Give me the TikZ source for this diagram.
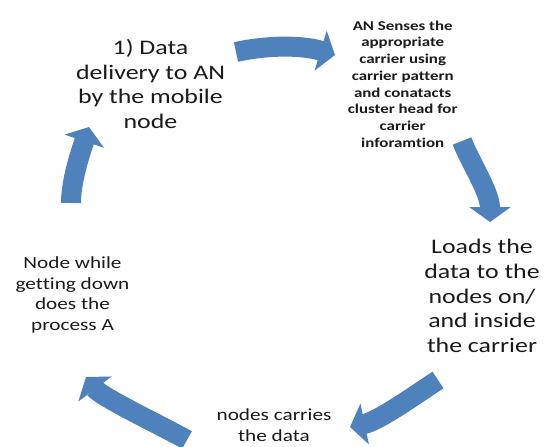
\documentclass[tikz,border=0pt]{standalone}
\usepackage{fontspec}
\newfontfamily\diafont[FakeStretch=1.25,Ligatures={NoCommon,NoContextual,NoRare}]{Carlito}
\usetikzlibrary{arrows.meta}
\definecolor{arrowblue}{HTML}{4F81BD}
\definecolor{textgray}{HTML}{1A1A1A}
\tikzset{
  cyclearrow/.style={draw=arrowblue, line width=20pt, line cap=butt,
    -{Triangle[width=41pt,length=15pt]}},
  bigtext/.style={align=center, inner sep=0pt, text=textgray,
    font=\diafont\fontsize{20.7}{24.8}\selectfont},
  midtext/.style={align=center, inner sep=0pt, text=textgray,
    font=\diafont\fontsize{17}{20.8}\selectfont},
  smalltext/.style={align=center, inner sep=0pt, text=textgray,
    font=\diafont\bfseries\fontsize{13.5}{16.7}\selectfont}
}
\begin{document}
\begin{tikzpicture}[x=1pt,y=-1pt]
\useasboundingbox (0,0) rectangle (550,447);
% texts
\node[bigtext] (t1) at (150.5,84) {1) Data\\delivery to AN\\by the mobile\\node};
\node[smalltext] (t2) at (402.7,84) {AN Senses the\\appropriate\\carrier using\\carrier pattern\\and conatacts\\cluster head for\\carrier\\inforamtion};
\node[bigtext] (t3) at (482,296) {Loads the\\data to the\\nodes on/\\and inside\\the carrier};
\node[midtext] (t4) at (274,425) {nodes carries\\the data};
\node[midtext] (t5) at (72.5,295) {Node while\\getting down\\does the\\process A};
% arrow end points
\coordinate (a1s) at (236,52);  \coordinate (a1e) at (335,55);
\coordinate (a2s) at (462,141); \coordinate (a2e) at (490,222);
\coordinate (a3s) at (438,380); \coordinate (a3e) at (350,427);
\coordinate (a4s) at (187,440); \coordinate (a4e) at (86,377);
\coordinate (a5s) at (71,203);  \coordinate (a5e) at (89,127);
% arrows
\draw[cyclearrow] (a1s) .. controls (268,45) and (302,45) .. (a1e);
\draw[cyclearrow] (a2s) .. controls (469,160) and (490,192) .. (a2e);
\draw[cyclearrow] (a3s) .. controls (418,393) and (379,421) .. (a3e);
\draw[cyclearrow] (a4s) .. controls (166,428) and (101,397) .. (a4e);
\draw[cyclearrow] (a5s) .. controls (71,180) and (81,151) .. (a5e);
\end{tikzpicture}
\end{document}
